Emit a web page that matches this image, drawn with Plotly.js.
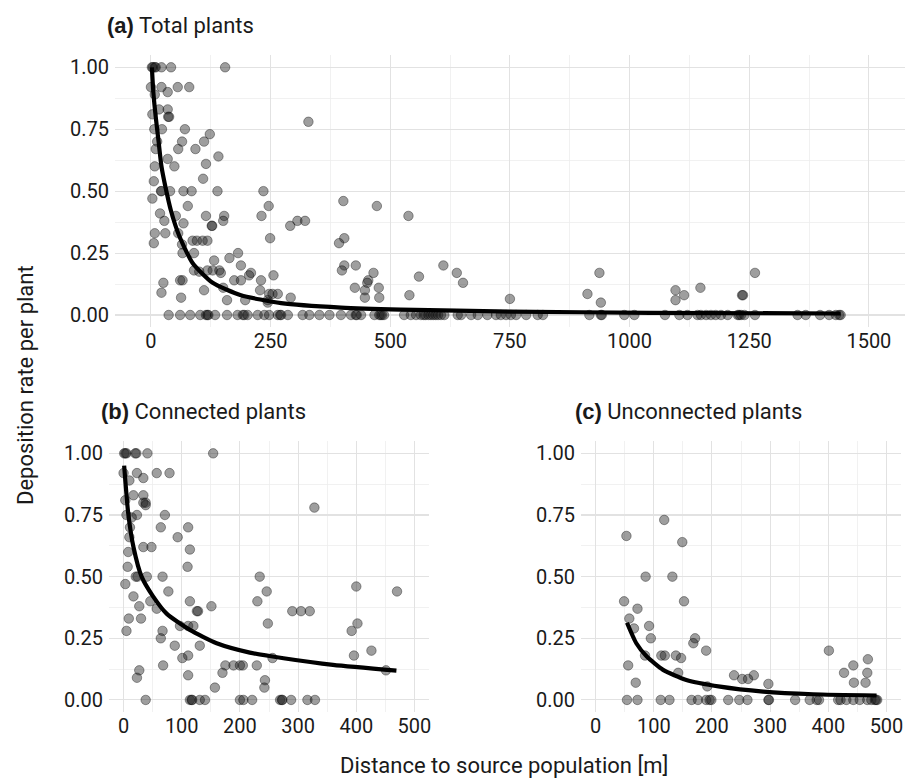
<!DOCTYPE html>
<html>
<head>
<meta charset="utf-8">
<script src="https://cdn.plot.ly/plotly-3.0.1.min.js"></script>
<style>
  html, body { margin: 0; padding: 0; background: #fff; }
  #chart { width: 913px; height: 781px; }
</style>
</head>
<body>
<div id="chart"></div>
<script>
// ---------- Data ----------
// Panel (a): total plants  [distance m, deposition rate]
const totalPts = [
  [2,1],[4,1],[8,1],[10,1],[22,1],[42,1],[155,1],
  [0,0.92],[22,0.92],[56,0.92],[80,0.92],[35,0.90],[8,0.89],[17,0.83],[35,0.83],
  [36,0.80],[38,0.80],[3,0.81],[329,0.78],[7,0.75],[23,0.75],[71,0.75],[123,0.73],
  [13,0.70],[65,0.70],[111,0.70],[10,0.67],[57,0.67],[93,0.67],[141,0.64],[35,0.63],
  [115,0.61],[8,0.60],[49,0.60],[109,0.55],[6,0.54],
  [21,0.50],[22,0.50],[40,0.50],[68,0.50],[85,0.50],[139,0.50],[235,0.50],
  [3,0.47],[402,0.46],[472,0.44],[77,0.44],[246,0.44],[19,0.41],
  [52,0.40],[115,0.40],[153,0.40],[231,0.40],[538,0.40],
  [28,0.38],[151,0.38],[306,0.38],[322,0.38],[68,0.37],[127,0.36],[128,0.36],[291,0.36],
  [8,0.33],[30,0.33],[57,0.33],[249,0.31],[404,0.31],
  [87,0.30],[96,0.30],[108,0.30],[118,0.30],[6,0.29],[393,0.29],[65,0.285],
  [66,0.25],[90,0.25],[182,0.25],[164,0.23],[132,0.22],
  [188,0.20],[404,0.20],[428,0.20],[611,0.20],
  [90,0.18],[118,0.18],[129,0.18],[143,0.18],[399,0.18],[101,0.175],
  [146,0.17],[209,0.17],[465,0.17],[639,0.17],[937,0.17],[1262,0.17],
  [205,0.16],[256,0.16],[560,0.155],
  [61,0.14],[66,0.14],[174,0.14],[188,0.14],[230,0.14],[454,0.14],
  [26,0.13],[452,0.13],[652,0.13],
  [151,0.11],[426,0.11],[476,0.11],[1148,0.11],
  [111,0.10],[228,0.10],[447,0.10],[1096,0.10],[22,0.09],
  [247,0.085],[254,0.085],[265,0.085],[912,0.085],
  [540,0.08],[1114,0.08],[1235,0.08],[1237,0.08],
  [63,0.07],[292,0.07],[447,0.07],[477,0.07],[750,0.065],
  [159,0.06],[197,0.06],[244,0.06],[1096,0.06],[244,0.05],[940,0.05],
  [37,0],[61,0],[82,0],[103,0],[115,0],[118,0],[120,0],[134,0],[159,0],[181,0],
  [192,0],[195,0],[202,0],[223,0],[237,0],[247,0],[265,0],[270,0],[272,0],[286,0],
  [317,0],[331,0],[352,0],[373,0],[397,0],[418,0],[428,0],[430,0],[439,0],[467,0],
  [477,0],[480,0],[483,0],[487,0],[529,0],[543,0],[554,0],[564,0],[570,0],[574,0],
  [580,0],[585,0],[590,0],[595,0],[600,0],[606,0],[613,0],[641,0],[648,0],[669,0],
  [683,0],[703,0],[721,0],[731,0],[742,0],[752,0],[763,0],[784,0],[808,0],[819,0],
  [916,0],[940,0],[942,0],[989,0],[1010,0],[1074,0],[1104,0],[1121,0],[1142,0],[1149,0],
  [1160,0],[1170,0],[1180,0],[1191,0],[1205,0],[1226,0],[1229,0],[1233,0],[1240,0],[1262,0],
  [1351,0],[1368,0],[1398,0],[1417,0],[1431,0],[1438,0],[1441,0]
];
const totalFit = [
  [2,1.0],[5,0.90],[10,0.80],[16,0.70],[22,0.60],[30,0.52],[42,0.42],[59,0.32],
  [87,0.21],[129,0.13],[188,0.08],[272,0.048],[397,0.03],[522,0.022],[750,0.014],
  [1044,0.009],[1441,0.006]
];

// Panel (b): connected plants
const connPts = [
  [1,1],[3,1],[5,1],[20,1],[22,1],[41,1],[154,1],
  [0,0.92],[23,0.92],[57,0.92],[79,0.92],[34,0.90],[10,0.89],[17,0.83],[34,0.83],
  [3,0.81],[34,0.80],[38,0.80],[38,0.79],[328,0.78],[5,0.75],[23,0.75],[71,0.75],[14,0.74],
  [11,0.70],[64,0.70],[111,0.70],[10,0.66],[93,0.66],[34,0.62],[48,0.62],[114,0.61],[8,0.60],
  [110,0.54],[7,0.54],[21,0.50],[24,0.50],[40,0.50],[67,0.50],[234,0.50],
  [3,0.47],[400,0.46],[470,0.44],[77,0.44],[246,0.44],[17,0.42],
  [46,0.40],[114,0.40],[230,0.40],[27,0.38],[151,0.38],[57,0.37],
  [290,0.36],[305,0.36],[320,0.36],[126,0.36],[128,0.36],[9,0.33],[30,0.33],
  [248,0.31],[402,0.31],[97,0.30],[111,0.30],[120,0.30],[5,0.28],[67,0.28],[392,0.28],
  [64,0.25],[88,0.22],[131,0.22],[426,0.20],[111,0.18],[396,0.18],[101,0.17],[256,0.17],
  [68,0.14],[175,0.14],[189,0.14],[200,0.14],[205,0.14],[229,0.14],
  [27,0.12],[451,0.12],[170,0.11],[111,0.10],[23,0.09],[243,0.08],[157,0.05],[242,0.05],
  [38,0],[114,0],[117,0],[118,0],[131,0],[140,0],[200,0],[206,0],[221,0],[269,0],
  [272,0],[273,0],[288,0],[316,0],[329,0]
];
const connFit = [
  [1,0.95],[8,0.757],[17,0.62],[31,0.50],[51,0.419],[74,0.35],[114,0.284],[160,0.23],
  [217,0.192],[275,0.169],[360,0.142],[469,0.119]
];

// Panel (c): unconnected plants
const unconnPts = [
  [118,0.73],[53,0.665],[149,0.64],[86,0.50],[132,0.50],[49,0.40],[152,0.40],[72,0.37],
  [58,0.33],[92,0.30],[66,0.29],[95,0.25],[171,0.25],[168,0.23],[190,0.20],[401,0.20],
  [85,0.18],[113,0.18],[119,0.18],[138,0.18],[147,0.17],[468,0.165],[56,0.14],[443,0.14],
  [142,0.11],[427,0.11],[467,0.11],[238,0.10],[272,0.10],[252,0.085],[262,0.085],
  [69,0.07],[444,0.07],[464,0.07],[297,0.065],[192,0.055],
  [54,0],[72,0],[112,0],[127,0],[165,0],[176,0],[190,0],[196,0],[199,0],[228,0],
  [247,0],[261,0],[297,0],[298,0],[343,0],[368,0],[380,0],[384,0],[417,0],[421,0],
  [431,0],[443,0],[454,0],[467,0],[474,0],[480,0],[482,0],[484,0]
];
const unconnFit = [
  [54,0.313],[70,0.23],[88,0.176],[116,0.122],[156,0.081],[214,0.054],[288,0.034],
  [374,0.023],[483,0.018]
];

const xTicksTotal = [0, 250, 500, 750, 1000, 1250, 1500];
const xTicksSub = [0, 100, 200, 300, 400, 500];
const yTicks = [0, 0.25, 0.5, 0.75, 1];

// ---------- Styling ----------
const FONT = 'Roboto, "Liberation Sans", sans-serif';
const TXT = '#1a1a1a';
const pointMarker = {
  size: 9.5,
  color: 'rgba(25,25,25,0.42)',
  line: { color: 'rgba(0,0,0,0.36)', width: 1 }
};
const fitLine = { color: '#000', width: 4.2, shape: 'spline', smoothing: 0.6 };

function scatter(pts, xa, ya) {
  return { type: 'scatter', mode: 'markers', x: pts.map(p => p[0]), y: pts.map(p => p[1]),
           xaxis: xa, yaxis: ya, marker: pointMarker, hoverinfo: 'skip', cliponaxis: false };
}
function fit(pts, xa, ya) {
  return { type: 'scatter', mode: 'lines', x: pts.map(p => p[0]), y: pts.map(p => p[1]),
           xaxis: xa, yaxis: ya, line: fitLine, hoverinfo: 'skip' };
}

const data = [
  scatter(totalPts, 'x', 'y'), fit(totalFit, 'x', 'y'),
  scatter(connPts, 'x2', 'y2'), fit(connFit, 'x2', 'y2'),
  scatter(unconnPts, 'x3', 'y3'), fit(unconnFit, 'x3', 'y3')
];

function xax(domain, range, ticks, minorStep, anchor) {
  return {
    domain, range, anchor, tickvals: ticks, ticktext: ticks.map(String),
    showgrid: true, gridcolor: '#e2e2e2', gridwidth: 1.1,
    minor: { dtick: minorStep, tick0: 0, showgrid: true, gridcolor: '#ededed', gridwidth: 0.8, ticks: '' },
    zeroline: false, showline: false, ticks: '',
    tickfont: { family: FONT, size: 20, color: TXT }, fixedrange: true
  };
}
function yax(domain, anchor) {
  return {
    domain, range: [-0.05, 1.05], anchor, tickvals: yTicks, tickformat: '.2f',
    showgrid: true, gridcolor: '#e2e2e2', gridwidth: 1.1,
    minor: { dtick: 0.125, tick0: 0, showgrid: true, gridcolor: '#ededed', gridwidth: 0.8, ticks: '' },
    zeroline: false, showline: false, ticks: '', ticklabelstandoff: 5,
    tickfont: { family: FONT, size: 20, color: TXT }, fixedrange: true
  };
}

const layout = {
  width: 913, height: 781,
  margin: { l: 0, r: 0, t: 0, b: 0 },
  paper_bgcolor: '#fff', plot_bgcolor: '#fff',
  showlegend: false,
  font: { family: FONT, color: TXT },
  xaxis:  xax([0.126, 0.991], [-75, 1575], xTicksTotal, 125, 'y'),
  yaxis:  yax([0.5808, 0.9297], 'x'),
  xaxis2: xax([0.1194, 0.4699], [-25, 525], xTicksSub, 50, 'y2'),
  yaxis2: yax([0.088, 0.4353], 'x2'),
  xaxis3: xax([0.6364, 0.9869], [-25, 525], xTicksSub, 50, 'y3'),
  yaxis3: yax([0.088, 0.4353], 'x3'),
  annotations: [
    { xref: 'paper', yref: 'paper', x: 105 / 913, y: 1 - 25 / 781, xanchor: 'left', yanchor: 'middle',
      showarrow: false, font: { family: FONT, size: 22, color: TXT },
      text: '<span style="font-family:\'Liberation Sans\';font-weight:bold">(a)</span> Total plants' },
    { xref: 'paper', yref: 'paper', x: 99 / 913, y: 1 - 411 / 781, xanchor: 'left', yanchor: 'middle',
      showarrow: false, font: { family: FONT, size: 22, color: TXT },
      text: '<span style="font-family:\'Liberation Sans\';font-weight:bold">(b)</span> Connected plants' },
    { xref: 'paper', yref: 'paper', x: 573 / 913, y: 1 - 411 / 781, xanchor: 'left', yanchor: 'middle',
      showarrow: false, font: { family: FONT, size: 22, color: TXT },
      text: '<span style="font-family:\'Liberation Sans\';font-weight:bold">(c)</span> Unconnected plants' },
    { xref: 'paper', yref: 'paper', x: 25 / 913, y: 1 - 385 / 781, xanchor: 'center', yanchor: 'middle',
      showarrow: false, textangle: -90, font: { family: FONT, size: 22, color: TXT },
      text: 'Deposition rate per plant' },
    { xref: 'paper', yref: 'paper', x: 504 / 913, y: 1 - 765 / 781, xanchor: 'center', yanchor: 'middle',
      showarrow: false, font: { family: FONT, size: 22, color: TXT },
      text: 'Distance to source population [m]' }
  ]
};

Plotly.newPlot('chart', data, layout, { staticPlot: true, displayModeBar: false });
</script>
</body>
</html>
